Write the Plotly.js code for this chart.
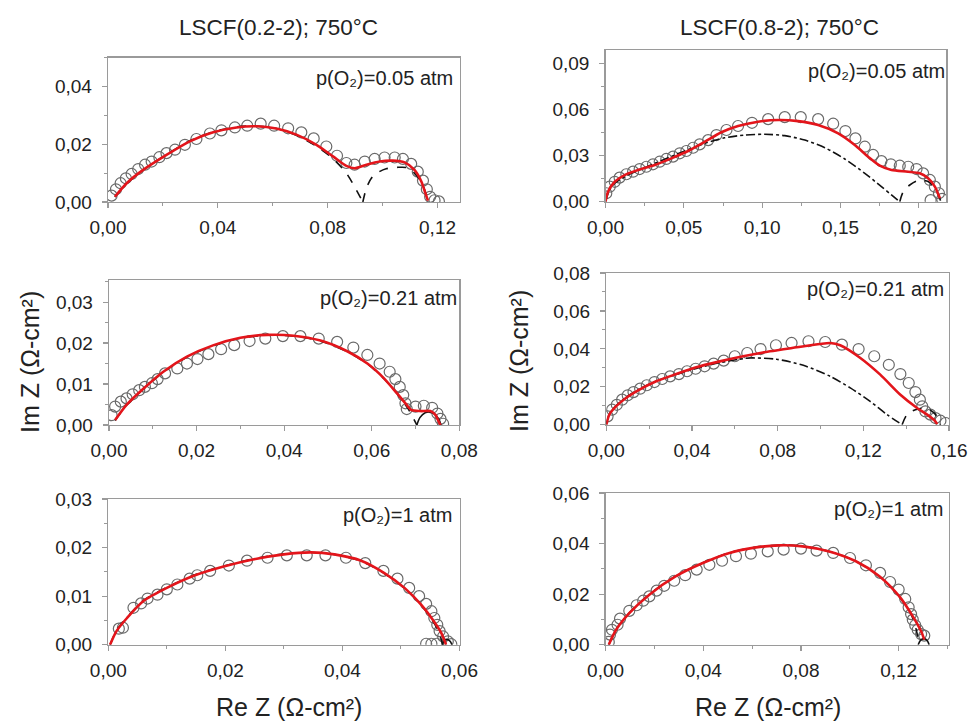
<!DOCTYPE html>
<html>
<head>
<meta charset="utf-8">
<script src="https://cdn.plot.ly/plotly-3.0.1.min.js"></script>
<style>html,body{margin:0;padding:0;background:#fff;}#chart{width:968px;height:721px;}</style>
</head>
<body>
<div id="chart"></div>
<script>
// ---------- Panel titles / labels ----------
const colTitles = ["LSCF(0.2-2); 750°C", "LSCF(0.8-2); 750°C"];
const pO2Labels = ["p(O₂)=0.05 atm", "p(O₂)=0.05 atm", "p(O₂)=0.21 atm", "p(O₂)=0.21 atm", "p(O₂)=1 atm", "p(O₂)=1 atm"];
const xTitle = "Re Z (Ω-cm²)";
const yTitle = "Im Z (Ω-cm²)";

// ---------- Top-left: LSCF(0.2-2), pO2 = 0.05 atm ----------
const tlCircX = [0.0013,0.0029,0.0046,0.0065,0.0086,0.0110,0.0135,0.0159,0.0187,0.0213,0.0244,0.0280,0.0322,0.0371,0.0413,0.0462,0.0507,0.0556,0.0605,0.0656,0.0704,0.0749,0.0795,0.0834,0.0868,0.0898,0.0935,0.0971,0.1007,0.1044,0.1074,0.1104,0.1128,0.1147,0.1161,0.1173,0.1189,0.1205];
const tlCircY = [0.0022,0.0044,0.0065,0.0082,0.0097,0.0114,0.0129,0.0140,0.0155,0.0169,0.0181,0.0198,0.0218,0.0237,0.0248,0.0258,0.0264,0.0271,0.0264,0.0255,0.0241,0.0220,0.0192,0.0160,0.0135,0.0129,0.0140,0.0149,0.0154,0.0154,0.0149,0.0132,0.0105,0.0074,0.0044,0.0018,0.0006,0.0002];
const tlFitX = [0.0025,0.0068,0.0128,0.0213,0.0298,0.0383,0.0468,0.0541,0.0613,0.0686,0.0759,0.0819,0.0868,0.0898,0.0941,0.0989,0.1037,0.1080,0.1116,0.1141,0.1156,0.1165];
const tlFitY = [0.0018,0.0065,0.0111,0.0163,0.0210,0.0241,0.0258,0.0262,0.0254,0.0233,0.0198,0.0158,0.0125,0.0117,0.0129,0.0140,0.0143,0.0137,0.0111,0.0071,0.0030,0.0005];
const tlArc1X = [0.0025,0.0068,0.0128,0.0213,0.0298,0.0383,0.0468,0.0541,0.0613,0.0686,0.0759,0.0819,0.0868,0.0904,0.0928];
const tlArc1Y = [0.0017,0.0063,0.0110,0.0164,0.0212,0.0243,0.0260,0.0263,0.0254,0.0231,0.0193,0.0150,0.0100,0.0042,0.0000];
const tlArc2X = [0.0928,0.0941,0.0959,0.0983,0.1013,0.1056,0.1092,0.1125,0.1150,0.1165];
const tlArc2Y = [0.0000,0.0048,0.0082,0.0102,0.0115,0.0120,0.0118,0.0090,0.0050,0.0000];

// ---------- Top-right: LSCF(0.8-2), pO2 = 0.05 atm ----------
const trCircX = [0.0005,0.0027,0.0059,0.0090,0.0133,0.0176,0.0218,0.0261,0.0303,0.0346,0.0388,0.0431,0.0474,0.0516,0.0559,0.0601,0.0655,0.0708,0.0772,0.0846,0.0935,0.1038,0.1144,0.1246,0.1357,0.1453,0.1531,0.1595,0.1655,0.1708,0.1761,0.1821,0.1878,0.1932,0.1985,0.2027,0.2070,0.2102,0.2128,0.2149,0.2075];
const trCircY = [0.0055,0.0098,0.0130,0.0157,0.0179,0.0196,0.0213,0.0228,0.0244,0.0261,0.0279,0.0294,0.0316,0.0331,0.0352,0.0374,0.0402,0.0435,0.0468,0.0494,0.0515,0.0539,0.0552,0.0552,0.0539,0.0509,0.0461,0.0413,0.0359,0.0305,0.0265,0.0244,0.0235,0.0228,0.0213,0.0185,0.0142,0.0098,0.0055,0.0018,0.0010];
const trFitX = [0.0000,0.0016,0.0059,0.0122,0.0208,0.0314,0.0420,0.0527,0.0633,0.0740,0.0846,0.0974,0.1102,0.1229,0.1357,0.1485,0.1591,0.1676,0.1751,0.1825,0.1932,0.2006,0.2059,0.2102,0.2134];
const trFitY = [0.0000,0.0065,0.0130,0.0174,0.0207,0.0239,0.0283,0.0331,0.0391,0.0453,0.0494,0.0522,0.0533,0.0526,0.0500,0.0446,0.0370,0.0294,0.0235,0.0207,0.0196,0.0185,0.0153,0.0098,0.0022];
const trArc1X = [0.0000,0.0037,0.0122,0.0250,0.0378,0.0506,0.0633,0.0761,0.0889,0.1016,0.1144,0.1272,0.1400,0.1527,0.1655,0.1761,0.1825,0.1878];
const trArc1Y = [0.0000,0.0098,0.0163,0.0222,0.0277,0.0331,0.0381,0.0417,0.0435,0.0440,0.0431,0.0402,0.0352,0.0279,0.0185,0.0098,0.0044,0.0000];
const trArc2X = [0.1878,0.1900,0.1942,0.1995,0.2059,0.2102,0.2128,0.2141];
const trArc2Y = [0.0000,0.0065,0.0109,0.0138,0.0132,0.0087,0.0033,0.0000];

// ---------- Middle-left: LSCF(0.2-2), pO2 = 0.21 atm ----------
const mlCircX = [0.0006,0.0014,0.0027,0.0040,0.0054,0.0069,0.0082,0.0098,0.0111,0.0128,0.0156,0.0178,0.0202,0.0227,0.0256,0.0286,0.0321,0.0357,0.0397,0.0437,0.0479,0.0521,0.0558,0.0590,0.0618,0.0641,0.0654,0.0664,0.0672,0.0677,0.0680,0.0700,0.0719,0.0738,0.0750,0.0757,0.0763];
const mlCircY = [0.0024,0.0045,0.0057,0.0065,0.0075,0.0085,0.0093,0.0102,0.0112,0.0126,0.0138,0.0150,0.0161,0.0173,0.0185,0.0195,0.0205,0.0211,0.0217,0.0217,0.0211,0.0203,0.0189,0.0171,0.0150,0.0130,0.0112,0.0093,0.0073,0.0053,0.0039,0.0045,0.0047,0.0042,0.0028,0.0015,0.0003];
const mlFitX = [0.0014,0.0040,0.0079,0.0124,0.0178,0.0239,0.0300,0.0361,0.0422,0.0483,0.0544,0.0590,0.0628,0.0658,0.0677,0.0690,0.0711,0.0734,0.0746,0.0753,0.0757];
const mlFitY = [0.0012,0.0049,0.0089,0.0130,0.0167,0.0195,0.0213,0.0220,0.0218,0.0206,0.0180,0.0150,0.0114,0.0077,0.0053,0.0037,0.0034,0.0034,0.0024,0.0008,0.0000];
const mlArc1X = [0.0014,0.0040,0.0079,0.0124,0.0178,0.0239,0.0300,0.0361,0.0422,0.0483,0.0544,0.0590,0.0628,0.0658,0.0684,0.0703];
const mlArc1Y = [0.0011,0.0048,0.0088,0.0129,0.0166,0.0194,0.0212,0.0219,0.0217,0.0205,0.0179,0.0149,0.0113,0.0076,0.0038,0.0000];
const mlArc2X = [0.0703,0.0710,0.0722,0.0736,0.0748,0.0755,0.0758];
const mlArc2Y = [0.0000,0.0018,0.0030,0.0031,0.0022,0.0010,0.0000];

// ---------- Middle-right: LSCF(0.8-2), pO2 = 0.21 atm ----------
const mrCircX = [0.0006,0.0027,0.0049,0.0074,0.0100,0.0127,0.0158,0.0189,0.0225,0.0261,0.0298,0.0339,0.0377,0.0417,0.0459,0.0501,0.0548,0.0600,0.0658,0.0720,0.0792,0.0865,0.0944,0.1022,0.1100,0.1178,0.1251,0.1319,0.1373,0.1412,0.1443,0.1464,0.1475,0.1490,0.1513,0.1537,0.1560,0.1584];
const mrCircY = [0.0044,0.0079,0.0105,0.0132,0.0155,0.0172,0.0190,0.0208,0.0225,0.0241,0.0255,0.0267,0.0282,0.0295,0.0308,0.0322,0.0338,0.0361,0.0378,0.0399,0.0419,0.0431,0.0440,0.0436,0.0422,0.0399,0.0361,0.0316,0.0267,0.0220,0.0172,0.0132,0.0097,0.0070,0.0053,0.0035,0.0021,0.0009];
const mrFitX = [0.0000,0.0014,0.0045,0.0092,0.0155,0.0233,0.0327,0.0420,0.0530,0.0639,0.0764,0.0889,0.0998,0.1045,0.1092,0.1186,0.1279,0.1373,0.1451,0.1498,0.1530,0.1545];
const mrFitY = [0.0000,0.0053,0.0097,0.0141,0.0185,0.0229,0.0267,0.0303,0.0334,0.0361,0.0387,0.0408,0.0426,0.0431,0.0419,0.0352,0.0264,0.0158,0.0088,0.0053,0.0026,0.0003];
const mrArc1X = [0.0000,0.0014,0.0045,0.0092,0.0155,0.0233,0.0327,0.0420,0.0530,0.0620,0.0670,0.0795,0.0920,0.1045,0.1139,0.1232,0.1311,0.1381];
const mrArc1Y = [0.0000,0.0055,0.0100,0.0144,0.0188,0.0230,0.0265,0.0297,0.0327,0.0345,0.0352,0.0345,0.0313,0.0255,0.0194,0.0123,0.0053,0.0000];
const mrArc2X = [0.1381,0.1404,0.1443,0.1490,0.1530,0.1553,0.1560];
const mrArc2Y = [0.0000,0.0053,0.0079,0.0088,0.0062,0.0026,0.0000];

// ---------- Bottom-left: LSCF(0.2-2), pO2 = 1 atm ----------
const blCircX = [0.0018,0.0025,0.0043,0.0056,0.0067,0.0084,0.0100,0.0118,0.0139,0.0152,0.0174,0.0206,0.0237,0.0272,0.0305,0.0339,0.0371,0.0406,0.0439,0.0470,0.0494,0.0514,0.0531,0.0543,0.0552,0.0557,0.0562,0.0566,0.0572,0.0580,0.0586,0.0543,0.0552,0.0561];
const blCircY = [0.0033,0.0035,0.0076,0.0085,0.0095,0.0103,0.0114,0.0124,0.0136,0.0143,0.0152,0.0163,0.0173,0.0179,0.0184,0.0184,0.0184,0.0179,0.0168,0.0152,0.0136,0.0117,0.0100,0.0084,0.0069,0.0055,0.0041,0.0028,0.0017,0.0007,0.0001,0.0002,0.0002,0.0002];
const blFitX = [0.0003,0.0014,0.0032,0.0060,0.0100,0.0146,0.0197,0.0249,0.0300,0.0346,0.0386,0.0432,0.0471,0.0506,0.0534,0.0554,0.0569,0.0577];
const blFitY = [0.0000,0.0028,0.0055,0.0090,0.0117,0.0142,0.0161,0.0176,0.0186,0.0190,0.0186,0.0173,0.0148,0.0117,0.0083,0.0052,0.0024,0.0000];
const blArc1X = [0.0003,0.0014,0.0032,0.0060,0.0100,0.0146,0.0197,0.0249,0.0300,0.0346,0.0386,0.0432,0.0471,0.0506,0.0534,0.0554,0.0566,0.0571];
const blArc1Y = [0.0000,0.0029,0.0056,0.0091,0.0118,0.0143,0.0162,0.0177,0.0187,0.0190,0.0186,0.0172,0.0147,0.0116,0.0082,0.0050,0.0022,0.0000];
const blArc2X = [0.0571,0.0574,0.0579,0.0584,0.0587];
const blArc2Y = [0.0000,0.0009,0.0011,0.0007,0.0000];

// ---------- Bottom-right: LSCF(0.8-2), pO2 = 1 atm ----------
const brCircX = [0.0013,0.0018,0.0026,0.0049,0.0059,0.0097,0.0127,0.0154,0.0179,0.0209,0.0240,0.0281,0.0326,0.0373,0.0425,0.0477,0.0534,0.0595,0.0664,0.0729,0.0800,0.0864,0.0932,0.1001,0.1066,0.1124,0.1165,0.1200,0.1227,0.1241,0.1251,0.1258,0.1268,0.1278,0.1292,0.1305];
const brCircY = [0.0011,0.0040,0.0059,0.0079,0.0103,0.0134,0.0156,0.0174,0.0191,0.0214,0.0233,0.0253,0.0275,0.0297,0.0316,0.0332,0.0350,0.0360,0.0369,0.0376,0.0380,0.0372,0.0363,0.0343,0.0314,0.0284,0.0248,0.0218,0.0181,0.0148,0.0121,0.0099,0.0077,0.0059,0.0042,0.0036];
const brFitX = [0.0013,0.0043,0.0097,0.0179,0.0288,0.0398,0.0507,0.0616,0.0711,0.0807,0.0916,0.1025,0.1121,0.1203,0.1258,0.1292,0.1305];
const brFitY = [0.0000,0.0059,0.0125,0.0198,0.0271,0.0323,0.0363,0.0385,0.0393,0.0389,0.0369,0.0330,0.0271,0.0191,0.0112,0.0053,0.0020];
const brArc1X = [0.0013,0.0043,0.0097,0.0179,0.0288,0.0398,0.0507,0.0616,0.0711,0.0807,0.0916,0.1025,0.1121,0.1203,0.1258,0.1285];
const brArc1Y = [0.0000,0.0060,0.0126,0.0199,0.0272,0.0324,0.0364,0.0386,0.0394,0.0390,0.0369,0.0330,0.0270,0.0190,0.0105,0.0000];
const brArc2X = [0.1280,0.1290,0.1305,0.1318,0.1325];
const brArc2Y = [0.0000,0.0018,0.0024,0.0015,0.0000];

// ---------- Build ----------
const FONT = "Liberation Sans, Arial, sans-serif";
const panels = [
  {ax:"",  circ:[tlCircX,tlCircY], fit:[tlFitX,tlFitY], arcs:[[tlArc1X,tlArc1Y,"dash"],[tlArc2X,tlArc2Y,"dash"]]},
  {ax:"2", circ:[trCircX,trCircY], fit:[trFitX,trFitY], arcs:[[trArc1X,trArc1Y,"dashdot"],[trArc2X,trArc2Y,"dash"]]},
  {ax:"3", circ:[mlCircX,mlCircY], fit:[mlFitX,mlFitY], arcs:[[mlArc1X,mlArc1Y,"dash"],[mlArc2X,mlArc2Y,"solid"]]},
  {ax:"4", circ:[mrCircX,mrCircY], fit:[mrFitX,mrFitY], arcs:[[mrArc1X,mrArc1Y,"dashdot"],[mrArc2X,mrArc2Y,"dash"]]},
  {ax:"5", circ:[blCircX,blCircY], fit:[blFitX,blFitY], arcs:[[blArc1X,blArc1Y,"dash"],[blArc2X,blArc2Y,"solid"]]},
  {ax:"6", circ:[brCircX,brCircY], fit:[brFitX,brFitY], arcs:[[brArc1X,brArc1Y,"dash"],[brArc2X,brArc2Y,"solid"]]}
];

const traces = [];
panels.forEach(p => {
  const xa = "x" + p.ax, ya = "y" + p.ax;
  traces.push({x:p.circ[0], y:p.circ[1], xaxis:xa, yaxis:ya, type:"scatter", mode:"markers",
    marker:{symbol:"circle-open", size:11, color:"#6a6a6a", line:{width:1.2}}, hoverinfo:"skip"});
  p.arcs.forEach(a => {
    traces.push({x:a[0], y:a[1], xaxis:xa, yaxis:ya, type:"scatter", mode:"lines",
      line:{color:"#111", width:1.6, dash:a[2], shape:"spline", smoothing:0.8}, hoverinfo:"skip"});
  });
  traces.push({x:p.fit[0], y:p.fit[1], xaxis:xa, yaxis:ya, type:"scatter", mode:"lines",
    line:{color:"#e3151b", width:2.6, shape:"spline", smoothing:0.7}, hoverinfo:"skip"});
});

const W = 968, H = 721;
function dom(a, b) { return [a / W, b / W]; }
function vdom(top, bottom) { return [1 - bottom / H, 1 - top / H]; }

function axis(domain, range, dtick, minor, anchor, isY) {
  return {
    domain: domain, range: range, dtick: dtick, tick0: 0, anchor: anchor,
    showline: true, mirror: true, linecolor: "#9a9a9a", linewidth: 1.3,
    ticks: "outside", ticklen: 5, tickcolor: "#9a9a9a", tickwidth: 1.2,
    minor: {ticks: "outside", ticklen: 3, dtick: minor, tick0: 0, tickcolor: "#9a9a9a", tickwidth: 1},
    showgrid: false, zeroline: false, tickformat: ".2f",
    ticklabelstandoff: isY ? 6 : 3,
    tickfont: {family: FONT, size: 19, color: "#222"}, fixedrange: true
  };
}

const layout = {
  width: W, height: H, margin: {l:0, r:0, t:0, b:0},
  paper_bgcolor: "#fff", plot_bgcolor: "#fff", showlegend: false,
  separators: ", ", font: {family: FONT, color: "#222"},
  xaxis:  axis(dom(108, 459.5), [0, 0.128], 0.04, 0.02, "y", false),
  yaxis:  axis(vdom(57.5, 202), [0, 0.05], 0.02, 0.01, "x", true),
  xaxis2: axis(dom(605.5, 946.3), [0, 0.2175], 0.05, 0.025, "y2", false),
  yaxis2: axis(vdom(50, 201.7), [0, 0.099], 0.03, 0.015, "x2", true),
  xaxis3: axis(dom(109, 459.3), [0, 0.08], 0.02, 0.01, "y3", false),
  yaxis3: axis(vdom(280, 425), [0, 0.0354], 0.01, 0.005, "x3", true),
  xaxis4: axis(dom(606.3, 949), [0, 0.16], 0.04, 0.02, "y4", false),
  yaxis4: axis(vdom(273, 424.7), [0, 0.08], 0.02, 0.01, "x4", true),
  xaxis5: axis(dom(108.3, 459.5), [0, 0.06], 0.02, 0.01, "y5", false),
  yaxis5: axis(vdom(499, 644.7), [0, 0.03], 0.01, 0.005, "x5", true),
  xaxis6: axis(dom(605.6, 948.7), [0, 0.1405], 0.04, 0.02, "y6", false),
  yaxis6: axis(vdom(493, 644.7), [0, 0.06], 0.02, 0.01, "x6", true),
  annotations: []
};

// column titles
const titlePos = [[278, 28], [779, 28]];
colTitles.forEach((t, i) => layout.annotations.push({
  text: t, xref: "paper", yref: "paper", x: titlePos[i][0] / W, y: 1 - titlePos[i][1] / H,
  xanchor: "center", yanchor: "middle", showarrow: false, font: {family: FONT, size: 22.5, color: "#222"}
}));
// pO2 labels (right edge, top edge in px)
const labPos = [[455, 65], [947, 58], [459, 285], [946, 276], [454, 502], [945, 496]];
pO2Labels.forEach((t, i) => layout.annotations.push({
  text: t, xref: "paper", yref: "paper", x: labPos[i][0] / W, y: 1 - labPos[i][1] / H,
  xanchor: "right", yanchor: "top", showarrow: false, font: {family: FONT, size: 20, color: "#222"}
}));
// axis titles
[[289, 707], [768, 707]].forEach(p => layout.annotations.push({
  text: xTitle, xref: "paper", yref: "paper", x: p[0] / W, y: 1 - p[1] / H,
  xanchor: "center", yanchor: "middle", showarrow: false, font: {family: FONT, size: 25, color: "#222"}
}));
[[30, 362], [519, 361]].forEach(p => layout.annotations.push({
  text: yTitle, xref: "paper", yref: "paper", x: p[0] / W, y: 1 - p[1] / H, textangle: -90,
  xanchor: "center", yanchor: "middle", showarrow: false, font: {family: FONT, size: 25, color: "#222"}
}));

Plotly.newPlot("chart", traces, layout, {staticPlot: true, displayModeBar: false});
</script>
</body>
</html>
